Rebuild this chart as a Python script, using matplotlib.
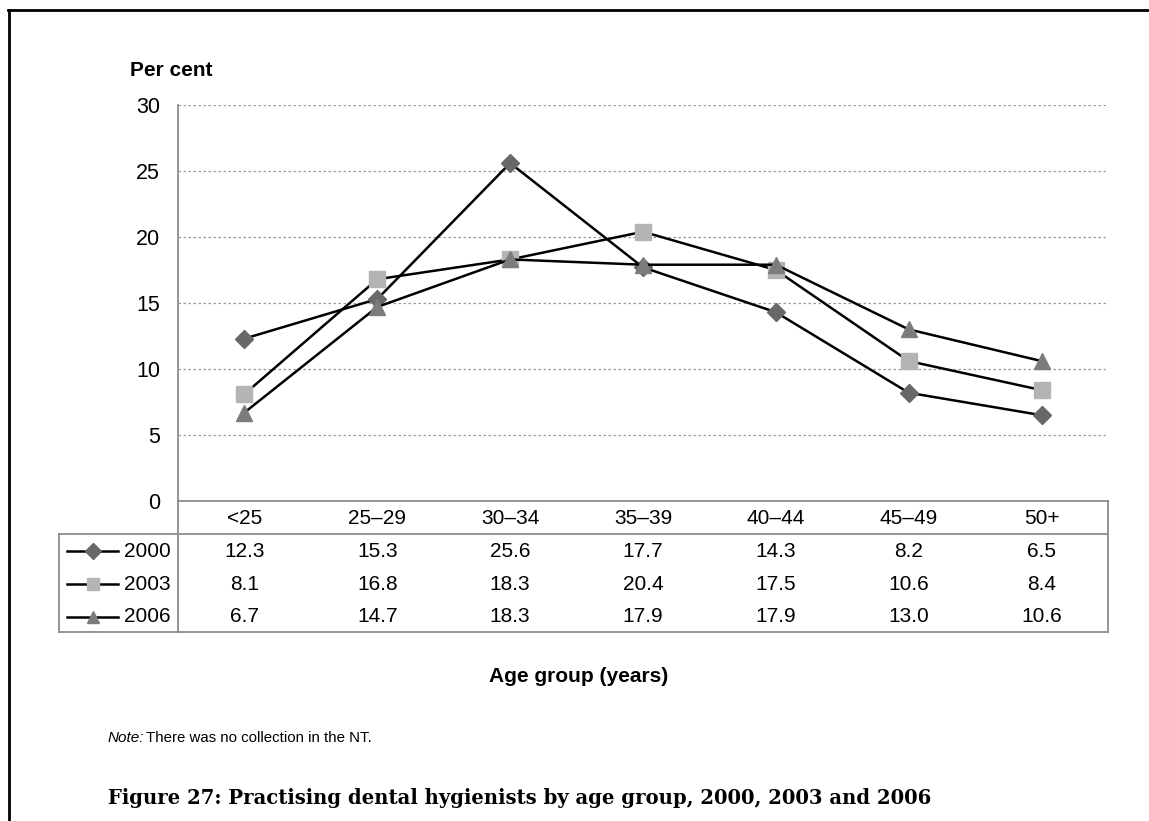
import matplotlib
matplotlib.use("Agg")
import matplotlib.pyplot as plt
from matplotlib.lines import Line2D
import matplotlib.transforms as mtransforms

categories = ["<25", "25–29", "30–34", "35–39", "40–44", "45–49", "50+"]
series_names = ["2000", "2003", "2006"]
values_2000 = [12.3, 15.3, 25.6, 17.7, 14.3, 8.2, 6.5]
values_2003 = [8.1, 16.8, 18.3, 20.4, 17.5, 10.6, 8.4]
values_2006 = [6.7, 14.7, 18.3, 17.9, 17.9, 13.0, 10.6]
series_values = [values_2000, values_2003, values_2006]
yticks = [0, 5, 10, 15, 20, 25, 30]

markers = ["D", "s", "^"]
marker_colors = ["#686868", "#b4b4b4", "#7c7c7c"]
marker_sizes = [9.5, 11, 11]

W, H = 1149, 821
fig = plt.figure(figsize=(W / 100, H / 100), dpi=100)
plt.rcParams["font.family"] = ["Liberation Sans", "DejaVu Sans"]
FS = 15

def fx(px):
    return px / W

def fy(py):
    return 1 - py / H

ax_left, ax_right, ax_top, ax_bot = 178, 1108, 105, 501
ax = fig.add_axes([fx(ax_left), fy(ax_bot), fx(ax_right - ax_left), (ax_bot - ax_top) / H])
ax.set_xlim(-0.5, len(categories) - 0.5)
ax.set_ylim(0, 30)
ax.set_yticks(yticks)
ax.set_yticklabels([str(v) for v in yticks], fontsize=FS + 0.5)
ax.tick_params(axis="y", length=0, pad=13)
ax.set_xticks([])
for s in ["top", "right"]:
    ax.spines[s].set_visible(False)
ax.spines["left"].set_color("#8c8c8c")
ax.spines["bottom"].set_color("#8c8c8c")
ax.spines["left"].set_linewidth(1.3)
ax.spines["bottom"].set_linewidth(1.3)
for v in yticks[1:]:
    ax.axhline(v, color="#9a9a9a", linestyle=(0, (2, 2)), linewidth=0.9, zorder=0)

xs = list(range(len(categories)))
for vals, m, c, ms in zip(series_values, markers, marker_colors, marker_sizes):
    ax.plot(xs, vals, color="black", linewidth=1.8, marker=m, markersize=ms,
            markerfacecolor=c, markeredgecolor=c, zorder=3, clip_on=False)

# Table below the plot
grid_c = "#8c8c8c"
def hline(y, x0, x1):
    fig.add_artist(Line2D([fx(x0), fx(x1)], [fy(y), fy(y)], color=grid_c, linewidth=1.3))
def vline(x, y0, y1):
    fig.add_artist(Line2D([fx(x), fx(x)], [fy(y0), fy(y1)], color=grid_c, linewidth=1.3))

table_left = 59
row_top = 534
row_h = 32.7
table_bot = row_top + 3 * row_h
hline(row_top, table_left, ax_right)
hline(table_bot, table_left, ax_right)
vline(table_left, row_top, table_bot)
vline(ax_left, ax_bot, table_bot)
vline(ax_right, ax_bot, table_bot)

trans = mtransforms.blended_transform_factory(ax.transData, fig.transFigure)
header_y = (ax_bot + row_top) / 2 + 1
for i, cat in enumerate(categories):
    fig.text(i, fy(header_y), cat, transform=trans, ha="center", va="center", fontsize=FS)

for r, (name, vals, m, c, ms) in enumerate(zip(series_names, series_values, markers, marker_colors, marker_sizes)):
    yc = row_top + row_h * (r + 0.5) + 1
    for i, v in enumerate(vals):
        fig.text(i, fy(yc), f"{v:.1f}", transform=trans, ha="center", va="center", fontsize=FS)
    fig.add_artist(Line2D([fx(67), fx(118)], [fy(yc), fy(yc)], color="black", linewidth=1.8))
    fig.add_artist(Line2D([fx(92.5)], [fy(yc)], marker=m, markersize=ms * 0.85,
                          markerfacecolor=c, markeredgecolor=c, linestyle="none"))
    fig.text(fx(171), fy(yc), name, ha="right", va="center", fontsize=FS)

# Labels
fig.text(fx(130), fy(70), "Per cent", ha="left", va="center", fontsize=FS, fontweight="bold")
fig.text(fx(579), fy(676), "Age group (years)", ha="center", va="center", fontsize=FS, fontweight="bold")
note_y = fy(738)
fig.text(fx(108), note_y, "Note:", ha="left", va="center", fontsize=11, style="italic")
fig.text(fx(146), note_y, "There was no collection in the NT.", ha="left", va="center", fontsize=10.8)
fig.text(fx(108), fy(798), "Figure 27: Practising dental hygienists by age group, 2000, 2003 and 2006",
         ha="left", va="center", fontsize=14.1, fontweight="bold", family=["DejaVu Serif"])

# Outer border (top and left)
fig.add_artist(Line2D([fx(8), 1.0], [fy(10), fy(10)], color="black", linewidth=2))
fig.add_artist(Line2D([fx(9), fx(9)], [fy(10), 0.0], color="black", linewidth=2))

fig.savefig("out.png", dpi=100)
